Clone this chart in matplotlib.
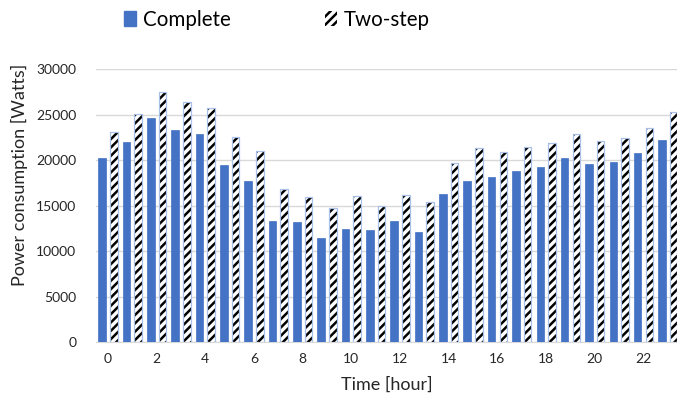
import matplotlib
matplotlib.use("Agg")
import matplotlib.pyplot as plt
import numpy as np
from matplotlib.patches import Patch

hours = list(range(24))
complete = [20270, 21950, 24590, 23310, 22830, 19470, 17670, 13280, 13170, 11420, 12440, 12330,
            13320, 12150, 16250, 17670, 18190, 18810, 19210, 20230, 19580, 19800, 20750, 22210]
two_step = [23050, 25030, 27520, 26340, 25760, 22500, 20970, 16870, 15950, 14710, 16060, 14970,
            16140, 15370, 19650, 21300, 20860, 21440, 21840, 22830, 22100, 22470, 23530, 25280]
xtick_labels = [str(h) for h in range(0, 24, 2)]
yticks = [0, 5000, 10000, 15000, 20000, 25000, 30000]

plt.rcParams['font.family'] = ['Lato', 'DejaVu Sans']
plt.rcParams['hatch.linewidth'] = 1.8

W, H = 677, 397
fig = plt.figure(figsize=(W / 100, H / 100), dpi=100)
left, right, top, bottom = 95.8, 680, 69, 342.3
ax = fig.add_axes([left / W, 1 - bottom / H, (right - left) / W, (bottom - top) / H])

x = np.arange(len(hours))
bw = 0.31
off = 0.24
edge_blue = '#A9C0E8'
ax.bar(x - off, complete, width=bw, color='#4472C4', edgecolor='#4472C4', linewidth=0.5, zorder=3)
# hatched fill (hatch drawn in edge colour) then light-blue outline on top
ax.bar(x + off, two_step, width=bw, color='white', edgecolor='black', hatch='////', linewidth=0, zorder=3)
ax.bar(x + off, two_step, width=bw, color='none', edgecolor=edge_blue, linewidth=0.9, zorder=4)

ax.set_xlim(-0.5, 23.5)
ax.set_ylim(0, 30000)
ax.set_yticks(yticks)
ax.set_xticks(range(0, 24, 2))
ax.set_xticklabels(xtick_labels)
ax.grid(axis='y', color='#D9D9D9', linewidth=1, zorder=0)
ax.set_axisbelow(True)
for s in ['top', 'right', 'left']:
    ax.spines[s].set_visible(False)
ax.spines['bottom'].set_color('#D9D9D9')
ax.tick_params(axis='both', length=0, labelsize=10, colors='#262626')
ax.tick_params(axis='y', pad=14)
ax.tick_params(axis='x', pad=8)

fig.text(387 / W, 1 - 385 / H, 'Time [hour]', fontsize=13, color='#262626', ha='center', va='center')
fig.text(19 / W, 1 - 175 / H, 'Power consumption [Watts]', fontsize=13, color='#262626',
         ha='center', va='center', rotation=90)

h1 = Patch(facecolor='#4472C4', edgecolor='#4472C4', label='Complete')
h2 = Patch(facecolor='white', edgecolor='black', hatch='////', linewidth=0, label='Two-step')
fig.legend(handles=[h1, h2], loc='center left', bbox_to_anchor=(124 / W, 1 - 20 / H), ncol=2,
           frameon=False, fontsize=14.8, handlelength=0.6, handleheight=0.75, handletextpad=0.3,
           columnspacing=4.6, borderpad=0, borderaxespad=0, labelcolor='black')

fig.savefig('out.png', dpi=100)
